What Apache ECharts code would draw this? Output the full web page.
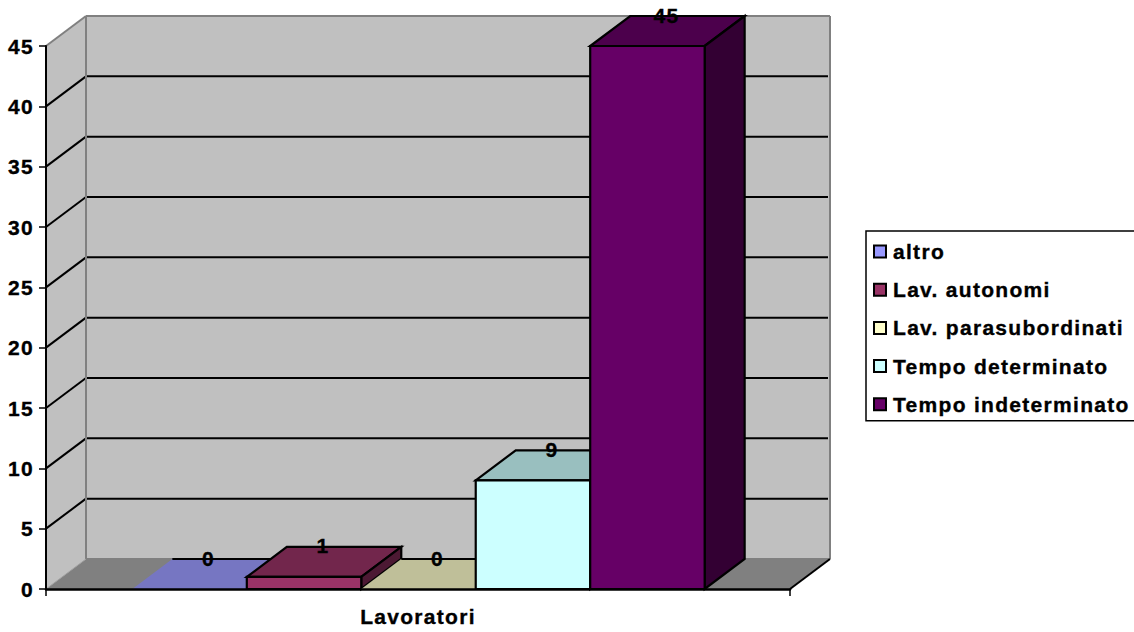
<!DOCTYPE html>
<html>
<head>
<meta charset="utf-8">
<style>
  html, body { margin: 0; padding: 0; background: #fff; }
  #chart { width: 1134px; height: 632px; }
  #chart text { letter-spacing: 1.3px; stroke: #000; stroke-width: 0.35px; }
</style>
<script src="https://cdn.jsdelivr.net/npm/echarts@6/dist/echarts.min.js"></script>
</head>
<body>
<div id="chart"></div>
<script>
// Workforce by contract type, drawn as an old-style 3D column chart.
const categories = ['Lavoratori'];
const seriesNames = ['altro', 'Lav. autonomi', 'Lav. parasubordinati', 'Tempo determinato', 'Tempo indeterminato'];
const seriesValues = [0, 1, 0, 9, 45];
const seriesColors = ['#9999FF', '#993366', '#FFFFCC', '#CCFFFF', '#660066'];
const topColors = ['#7676C2', '#72264C', '#BFBF99', '#99BFBF', '#4C004C'];
const sideColors = ['#4C4C80', '#4C1933', '#80806A', '#6A8080', '#330033'];
const yTicks = [0, 5, 10, 15, 20, 25, 30, 35, 40, 45];

// Oblique projection offset of the chart's depth axis, in pixels.
const DEPTH_X = 40;
const DEPTH_Y = 30;
const GAP_WIDTH = 1.5;      // gap beside the cluster, in column widths
const WALL_EDGE = '#808080';
const FONT = { fontFamily: 'Liberation Sans', fontWeight: 'bold', fontSize: 21, color: '#000' };

function poly(points, fill, z2) {
  return { type: 'polygon', z2, shape: { points }, style: { fill, stroke: null } };
}
function seg(a, b, stroke, lineWidth, z2) {
  return { type: 'line', z2, shape: { x1: a[0], y1: a[1], x2: b[0], y2: b[1] }, style: { stroke, lineWidth, fill: null } };
}
function outlined(points, fill, z2) {
  return { type: 'polygon', z2, shape: { points }, style: { fill, stroke: '#000', lineWidth: 2.2, lineJoin: 'miter' } };
}

// Back wall, side wall, floor and gridlines of the box around the columns.
function renderWalls(params, api) {
  const band = api.size([1, 0])[0];
  const centre = api.coord([0, 0])[0];
  const x0 = centre - band / 2;
  const x1 = centre + band / 2;
  const yBase = api.coord([0, yTicks[0]])[1];
  const yTop = api.coord([0, yTicks[yTicks.length - 1]])[1];
  const kids = [
    poly([[x0, yTop], [x0 + DEPTH_X, yTop - DEPTH_Y], [x0 + DEPTH_X, yBase - DEPTH_Y], [x0, yBase]], '#C0C0C0', 1),
    poly([[x0 + DEPTH_X, yTop - DEPTH_Y], [x1 + DEPTH_X, yTop - DEPTH_Y], [x1 + DEPTH_X, yBase - DEPTH_Y], [x0 + DEPTH_X, yBase - DEPTH_Y]], '#C0C0C0', 1),
    poly([[x0, yBase], [x0 + DEPTH_X, yBase - DEPTH_Y], [x1 + DEPTH_X, yBase - DEPTH_Y], [x1, yBase]], '#808080', 2)
  ];
  yTicks.slice(1, -1).forEach(t => {
    const y = api.coord([0, t])[1];
    kids.push(seg([x0, y], [x0 + DEPTH_X, y - DEPTH_Y], '#000', 2, 3));
    kids.push(seg([x0 + DEPTH_X, y - DEPTH_Y], [x1 + DEPTH_X - 2, y - DEPTH_Y], '#000', 2, 3));
  });
  kids.push(seg([x0, yTop], [x0 + DEPTH_X, yTop - DEPTH_Y], WALL_EDGE, 2, 4));
  kids.push(seg([x0 + DEPTH_X, yTop - DEPTH_Y], [x1 + DEPTH_X, yTop - DEPTH_Y], WALL_EDGE, 2, 4));
  kids.push(seg([x0 + DEPTH_X, yTop - DEPTH_Y], [x0 + DEPTH_X, yBase - DEPTH_Y], WALL_EDGE, 2, 4));
  kids.push(seg([x1 + DEPTH_X, yTop - DEPTH_Y], [x1 + DEPTH_X, yBase - DEPTH_Y], WALL_EDGE, 2, 4));
  kids.push(seg([x0, yBase], [x0 + DEPTH_X, yBase - DEPTH_Y], '#A0A0A0', 1, 4));
  kids.push(seg([x0 + DEPTH_X, yBase - DEPTH_Y], [x1 + DEPTH_X, yBase - DEPTH_Y], WALL_EDGE, 2, 4));
  kids.push(seg([x1, yBase], [x1 + DEPTH_X, yBase - DEPTH_Y], '#000', 2, 4));
  return { type: 'group', children: kids };
}

// One prism per contract type; a zero value collapses to its coloured footprint.
function renderPrism(index) {
  return function (params, api) {
    const band = api.size([1, 0])[0];
    const width = band / (seriesValues.length + GAP_WIDTH);
    const centre = api.coord([api.value(0), 0])[0];
    const left = centre - band / 2 + width * (GAP_WIDTH / 2 + index) + 0.5;
    const right = left + width;
    const value = api.value(1);
    const base = api.coord([0, 0])[1];
    const top = api.coord([0, value])[1];
    const frontTop = [[left, top], [right, top], [right + DEPTH_X, top - DEPTH_Y], [left + DEPTH_X, top - DEPTH_Y]];
    const kids = [];
    if (value > 0) {
      kids.push(outlined(frontTop, topColors[index], 10));
      kids.push(outlined([[right, top], [right + DEPTH_X, top - DEPTH_Y], [right + DEPTH_X, base - DEPTH_Y], [right, base]], sideColors[index], 10));
      kids.push(outlined([[left, top], [right, top], [right, base], [left, base]], seriesColors[index], 11));
    } else {
      kids.push(poly(frontTop, topColors[index], 10));
      kids.push(seg([left + DEPTH_X, top - DEPTH_Y], [right + DEPTH_X, top - DEPTH_Y], '#000', 2, 11));
    }
    kids.push({
      type: 'text', z2: 20,
      style: {
        x: (left + right) / 2 + DEPTH_X / 2 - 1,
        y: top - DEPTH_Y - 1,
        text: String(value),
        align: 'center',
        verticalAlign: 'middle',
        fill: '#000',
        font: 'bold 21px "Liberation Sans"'
      }
    });
    return { type: 'group', children: kids };
  };
}

const chart = echarts.init(document.getElementById('chart'), null, { renderer: 'svg', width: 1134, height: 632 });

chart.setOption({
  animation: false,
  backgroundColor: '#fff',
  grid: { left: 46, top: 46, width: 744, height: 543, containLabel: false },
  legend: {
    data: seriesNames,
    orient: 'vertical',
    left: 866,
    top: 231,
    padding: [10, 60, 6, 7],
    itemWidth: 12,
    itemHeight: 12,
    itemGap: 17.2,
    icon: 'rect',
    selectedMode: false,
    borderColor: '#000',
    borderWidth: 1.5,
    textStyle: Object.assign({ padding: [0, 0, 0, 2], lineHeight: 20 }, FONT)
  },
  xAxis: {
    type: 'category',
    data: categories,
    z: 30,
    axisLine: { lineStyle: { color: '#000', width: 2.5 } },
    axisTick: { show: true, length: 7, lineStyle: { color: '#000', width: 1.5 } },
    axisLabel: Object.assign({ margin: 17 }, FONT),
    splitLine: { show: false }
  },
  yAxis: {
    type: 'value',
    min: 0,
    max: 45,
    interval: 5,
    z: 30,
    axisLine: { show: true, lineStyle: { color: '#000', width: 2 } },
    axisTick: { show: true, length: 7, lineStyle: { color: '#000', width: 1.5 } },
    axisLabel: Object.assign({ margin: 12, padding: [0, 0, 2, 0] }, FONT),
    splitLine: { show: false }
  },
  series: [
    {
      type: 'custom',
      name: 'pareti',
      z: 1,
      silent: true,
      renderItem: renderWalls,
      data: [[0, 0]],
      encode: { x: 0, y: 1 }
    }
  ].concat(seriesNames.map((name, i) => ({
    type: 'custom',
    name,
    z: 2 + i,
    silent: true,
    renderItem: renderPrism(i),
    data: [[0, seriesValues[i]]],
    encode: { x: 0, y: 1 },
    itemStyle: { color: seriesColors[i], borderColor: '#000', borderWidth: 1.5 }
  })))
});
</script>
</body>
</html>
